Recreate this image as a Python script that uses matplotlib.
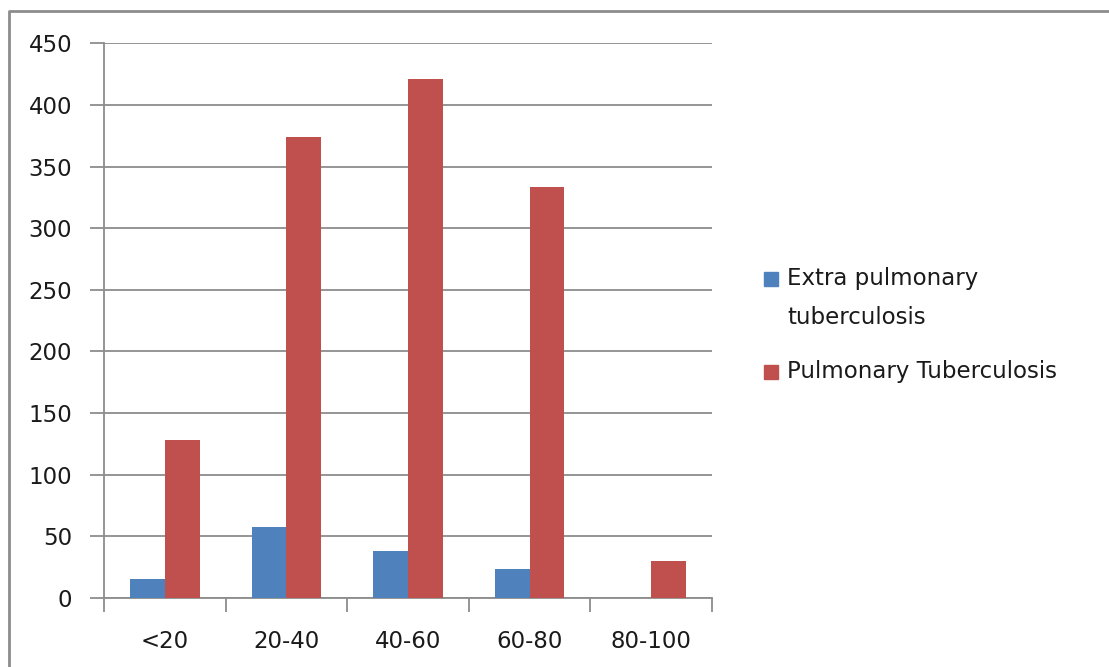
#!/usr/bin/env python3
"""Grouped bar chart of tuberculosis cases by age group."""
import matplotlib
matplotlib.use('Agg')
import matplotlib.pyplot as plt
from matplotlib.lines import Line2D
from matplotlib.patches import Rectangle
import numpy as np

age_groups = ['<20', '20-40', '40-60', '60-80', '80-100']
extra_pulmonary = [15, 57, 38, 23, 0]
pulmonary = [128, 374, 421, 333, 30]
series_names = ['Extra pulmonary\ntuberculosis', 'Pulmonary Tuberculosis']
series_colors = ['#4F81BD', '#C0504D']
y_ticks = [0, 50, 100, 150, 200, 250, 300, 350, 400, 450]

GRID = '#8C8C8C'
TEXT = '#1a1a1a'
FONT = 16.5

fig = plt.figure(figsize=(11.09, 6.67), dpi=100)
ax = fig.add_axes([104 / 1109, 1 - 597.7 / 667, 608 / 1109, 554.4 / 667])

x = np.arange(len(age_groups))
width = 1 / 3.5  # gap width 150% of a bar
for i, (vals, color) in enumerate(zip([extra_pulmonary, pulmonary], series_colors)):
    ax.bar(x + (i - 0.5) * width, vals, width, color=color, zorder=3)

ax.set_xlim(-0.5, len(age_groups) - 0.5)
ax.set_ylim(0, 450)
ax.set_yticks(y_ticks)
ax.yaxis.grid(True, color=GRID, linewidth=1.3, zorder=0)

# category ticks sit between the groups
ax.set_xticks(np.arange(len(age_groups) + 1) - 0.5)
ax.set_xticklabels([])
ax.set_xticks(x, minor=True)
ax.set_xticklabels(age_groups, minor=True)
ax.tick_params(axis='x', which='minor', length=0, pad=23, labelsize=FONT,
               labelcolor=TEXT)
ax.tick_params(axis='x', which='major', length=10, width=1.3, color=GRID)
ax.tick_params(axis='y', length=10, width=1.3, color=GRID, pad=13,
               labelsize=FONT, labelcolor=TEXT)

for side in ['top', 'right']:
    ax.spines[side].set_visible(False)
for side in ['left', 'bottom']:
    ax.spines[side].set_color(GRID)
    ax.spines[side].set_linewidth(1.3)

# legend to the right of the plot, square aligned with the first text line
legend_rows = [279, 372]
for name, color, row in zip(series_names, series_colors, legend_rows):
    fig.patches.append(Rectangle((764 / 1109, 1 - (row + 7) / 667), 14 / 1109, 14 / 667,
                                 transform=fig.transFigure, color=color))
    fig.text(787 / 1109, 1 - (row - 12) / 667, name, fontsize=FONT, color=TEXT,
             va='top', ha='left', linespacing=1.9)

# chart area border (left and top edges)
fig.lines.append(Line2D([9 / 1109, 9 / 1109, 1], [0, 1 - 11 / 667, 1 - 11 / 667],
                        transform=fig.transFigure, color='#8C8C8C', linewidth=2))

fig.savefig('out.png', dpi=100)
